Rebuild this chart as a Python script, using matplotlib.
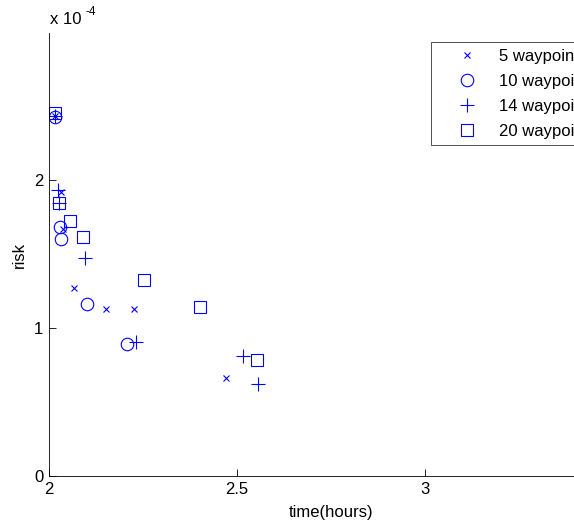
import matplotlib
matplotlib.use("Agg")
import matplotlib.pyplot as plt

plt.rcParams['font.family'] = ['Liberation Sans', 'DejaVu Sans']

# time (hours) and risk for each waypoint count
t5 = [2.016, 2.032, 2.037, 2.066, 2.152, 2.226, 2.471]
r5 = [2.43, 1.92, 1.67, 1.27, 1.13, 1.13, 0.66]

t10 = [2.016, 2.030, 2.032, 2.100, 2.207]
r10 = [2.42, 1.68, 1.60, 1.16, 0.89]

t14 = [2.016, 2.024, 2.027, 2.096, 2.231, 2.516, 2.556]
r14 = [2.43, 1.93, 1.84, 1.47, 0.905, 0.81, 0.62]

t20 = [2.016, 2.027, 2.056, 2.090, 2.253, 2.402, 2.553]
r20 = [2.45, 1.84, 1.72, 1.615, 1.32, 1.14, 0.78]

labels = ['5 waypoints', '10 waypoints', '14 waypoints', '20 waypoints']
xticks = [2, 2.5, 3]
xticklabels = ['2', '2.5', '3']
yticks = [0, 1, 2]
yticklabels = ['0', '1', '2']
scale = 1e-4

W, H = 574, 529
fig = plt.figure(figsize=(W / 100, H / 100), dpi=100)
ax = fig.add_axes([49 / W, (H - 476) / H, (613 - 49) / W, (476 - 33) / H])

blue = (0, 0, 1)
lw = 0.8
ax.plot(t5, [v * scale for v in r5], 'x', color=blue, ms=5, mew=lw, linestyle='none', label=labels[0])
ax.plot(t10, [v * scale for v in r10], 'o', color=blue, mfc='none', ms=9, mew=lw, linestyle='none', label=labels[1])
ax.plot(t14, [v * scale for v in r14], '+', color=blue, ms=10, mew=lw, linestyle='none', label=labels[2])
ax.plot(t20, [v * scale for v in r20], 's', color=blue, mec=blue, mfc='none', ms=9, mew=lw, linestyle='none', label=labels[3])

ax.set_xlim(2, 3.5)
ax.set_ylim(0, 2.99e-4)
ax.set_xticks(xticks)
ax.set_xticklabels(xticklabels)
ax.set_yticks([v * scale for v in yticks])
ax.set_yticklabels(yticklabels)
ax.tick_params(direction='in', length=5, width=0.6, labelsize=12, pad=4)
ax.spines['top'].set_visible(False)
ax.spines['right'].set_visible(False)
for s in ax.spines.values():
    s.set_linewidth(0.6)

ax.set_xlabel('time(hours)', fontsize=12, labelpad=6)
ax.set_ylabel('risk', fontsize=12, labelpad=5)

fig.text(50 / W, 1 - 20 / H, 'x 10', fontsize=12, ha='left', va='center')
fig.text(85 / W, 1 - 12 / H, '-4', fontsize=8.5, ha='left', va='center')

leg = ax.legend(loc='upper left', bbox_to_anchor=(431 / W, 1 - 42 / H),
                bbox_transform=fig.transFigure, fontsize=12, frameon=True,
                fancybox=False, borderpad=0.4, handlelength=3.56,
                handletextpad=0.1, labelspacing=0.6, borderaxespad=0)
leg.get_frame().set_edgecolor('black')
leg.get_frame().set_linewidth(0.6)

fig.savefig('out.png', dpi=100)
